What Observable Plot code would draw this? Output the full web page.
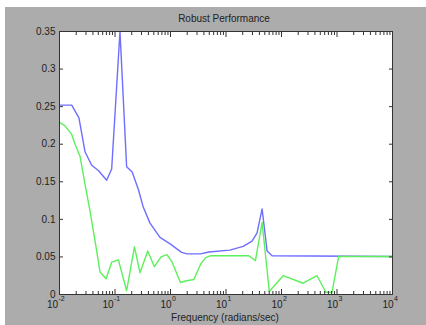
<!DOCTYPE html>
<html><head><meta charset="utf-8">
<script src="https://cdn.jsdelivr.net/npm/d3@7"></script>
<script src="https://cdn.jsdelivr.net/npm/@observablehq/plot@0.6"></script>
<style>
body{margin:0;background:#fff;}
#fig{position:relative;width:426px;height:325px;overflow:hidden;font-family:"Liberation Sans",Arial,sans-serif;}
#bg{position:absolute;left:5px;top:7px;right:0;bottom:0;background:#acacac;}
#chart{position:absolute;left:0;top:0;}
.lbl{position:absolute;font-size:10px;color:#222;text-align:center;line-height:12px;white-space:nowrap;}
</style></head><body>
<div id="fig"><div id="bg"></div><div id="chart"></div>
<div class="lbl" style="left:124px;width:200px;top:13px">Robust Performance</div>
<div class="lbl" style="left:125px;width:200px;top:312px">Frequency (radians/sec)</div>
</div>
<script>
const blueFreq = [0.01,0.0166,0.0224,0.0288,0.038,0.0501,0.0708,0.0871,0.123,0.162,0.204,0.263,0.324,0.427,0.646,1,1.58,2.0,3.47,4.9,11.7,20.4,29.5,36.3,44.7,55.0,67.6,10000];
const blueValue = [0.252,0.252,0.235,0.19,0.172,0.165,0.152,0.167,0.350,0.170,0.163,0.140,0.116,0.095,0.076,0.067,0.056,0.054,0.054,0.0565,0.059,0.064,0.071,0.082,0.114,0.058,0.0515,0.0505];
const greenFreq = [0.01,0.0126,0.0166,0.0191,0.0234,0.0288,0.0355,0.0437,0.0537,0.0692,0.0871,0.115,0.162,0.224,0.282,0.389,0.513,0.676,0.861,1.07,1.51,1.86,2.63,3.47,4.27,5.25,25.7,33.9,44.7,60.3,107,245,437,631,813,1070,10000];
const greenValue = [0.229,0.2245,0.213,0.200,0.184,0.147,0.111,0.0715,0.030,0.021,0.043,0.046,0.005,0.0635,0.029,0.058,0.037,0.050,0.053,0.043,0.016,0.018,0.020,0.040,0.049,0.0515,0.0515,0.045,0.096,0.004,0.025,0.015,0.025,0.003,0.003,0.0505,0.0505];
const yTicks = [0,0.05,0.1,0.15,0.2,0.25,0.3,0.35];
const yTickLabels = ["0","0.05","0.1","0.15","0.2","0.25","0.3","0.35"];
const xTickExponents = [-2,-1,0,1,2,3,4];

const blue = blueFreq.map((f,i)=>({f, v: blueValue[i]}));
const green = greenFreq.map((f,i)=>({f, v: greenValue[i]}));
const decades = xTickExponents.map(e => 10 ** e);
const minor = [];
for (const e of xTickExponents.slice(0,-1)) for (let m=2;m<=9;m++) minor.push(m*10**e);
const negExp = xTickExponents.filter(e => e < 0);
const posExp = xTickExponents.filter(e => e >= 0);
const ax = "#333";

const plot = Plot.plot({
  width:426, height:325, marginLeft:59, marginRight:34, marginTop:31, marginBottom:31,
  style:{background:"transparent", fontFamily:"'Liberation Sans', Arial, sans-serif", fontSize:"10px", color:"#222"},
  x:{type:"log", domain:[0.01,10000], label:null},
  y:{domain:[0,0.35], label:null},
  marks:[
    Plot.frame({fill:"white", stroke:null}),
    Plot.line(blue, {x:"f", y:"v", stroke:"#6e6eff", strokeWidth:1.4}),
    Plot.line(green, {x:"f", y:"v", stroke:"#5cf05c", strokeWidth:1.4}),
    Plot.frame({stroke:ax}),
    Plot.axisY(yTicks, {anchor:"left", tickSize:-4, tickPadding:8, stroke:ax, tickFormat: d => yTickLabels[yTicks.indexOf(d)]}),
    Plot.axisY(yTicks, {anchor:"right", tickSize:-4, stroke:ax, fill:"none"}),
    Plot.axisX(minor, {anchor:"bottom", tickSize:-3, stroke:ax, fill:"none"}),
    Plot.axisX(decades, {anchor:"bottom", tickSize:-5, stroke:ax, fill:"none"}),
    Plot.axisX(minor, {anchor:"top", tickSize:-3, stroke:ax, fill:"none"}),
    Plot.axisX(decades, {anchor:"top", tickSize:-5, stroke:ax, fill:"none"}),
    Plot.text(negExp, {x: e => 10 ** e, text: () => "10", frameAnchor:"bottom", textAnchor:"end", dx:-1.5, dy:13, fontSize:10, fill:"#222"}),
    Plot.text(negExp, {x: e => 10 ** e, text: e => String(e), frameAnchor:"bottom", textAnchor:"start", dx:-1, dy:6, fontSize:7, fill:"#222"}),
    Plot.text(posExp, {x: e => 10 ** e, text: () => "10", frameAnchor:"bottom", textAnchor:"end", dx:1, dy:13, fontSize:10, fill:"#222"}),
    Plot.text(posExp, {x: e => 10 ** e, text: e => String(e), frameAnchor:"bottom", textAnchor:"start", dx:1.5, dy:6, fontSize:7, fill:"#222"})
  ]
});
document.getElementById("chart").appendChild(plot);
</script>
</body></html>
